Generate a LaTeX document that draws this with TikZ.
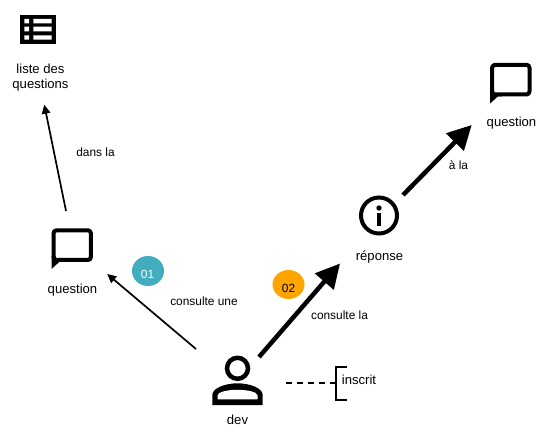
\documentclass[tikz,border=0pt]{standalone}
\usepackage{fontspec}
\setmainfont{Liberation Sans}
\usetikzlibrary{arrows.meta,calc}
\definecolor{tealbadge}{HTML}{42ADBC}
\definecolor{orangebadge}{HTML}{FFA500}
\tikzset{
  iconframe/.style={inner sep=0pt,outer sep=0pt,minimum width=#1,minimum height=#1},
  iconframe/.default=40pt,
  nodelabel/.style={inner sep=0pt,font=\fontsize{13.1}{15}\selectfont,align=center},
  edgelabel/.style={inner sep=0pt,font=\fontsize{11.9}{14}\selectfont,align=center},
  thinarrow/.style={line width=1.7pt,-{Triangle[length=9pt,width=8.5pt]}},
  bigarrow/.style={line width=4.5pt,-{Triangle[length=24pt,width=24pt]}},
  bubbleicon/.pic={
    \draw[line width=4pt,rounded corners=3pt,line join=round] (-9,12) -- (-18.7,12) -- (-18.7,-17.7) -- (18.7,-17.7) -- (18.7,12) -- (-9,12);
    \fill (-20.7,21) -- (-20.7,8) -- (-16.7,8) -- (-16.7,13.8) -- (-9,10) -- (-9,14) -- (-13,14) -- cycle;
  },
  listicon/.pic={
    \fill (-17.85,-14.5) rectangle (17.85,14.5);
    \fill[white] (-13.7,-10.2) rectangle (-9,-5.9) (-4.7,-10.2) rectangle (13.7,-5.9)
                 (-13.7,-2.5) rectangle (-9,2.1) (-4.7,-2.5) rectangle (13.7,2.1)
                 (-13.7,6.1) rectangle (-9,10.5) (-4.7,6.1) rectangle (13.7,10.5);
  },
  infoicon/.pic={
    \draw[line width=4pt] (0,0) circle (18pt);
    \fill (0,-7.5) circle (2.7pt);
    \fill (-2.4,-2.5) rectangle (2.4,10.5);
  },
  personicon/.pic={
    \draw[line width=4.5pt] (0,-11.7) circle (10.5pt);
    \fill (-25.2,25) -- (-25.2,15) .. controls (-25.2,8) and (-12,3.3) .. (0,3.3)
       .. controls (12,3.3) and (25.2,8) .. (25.2,15) -- (25.2,25) -- cycle;
    \fill[white] (-20,19.3) -- (-20,15.5) .. controls (-20,12) and (-10,9.8) .. (0,9.8)
       .. controls (10,9.8) and (20,12) .. (20,15.5) -- (20,19.3) -- cycle;
  }
}
\begin{document}
\begin{tikzpicture}[x=1pt,y=-1pt]
\useasboundingbox (0,0) rectangle (548,435);
% icon frames
\node[iconframe] (liste) at (38,29.2) {};
\node[iconframe] (qleft) at (72.2,248) {};
\node[iconframe] (qright) at (510.8,82.5) {};
\node[iconframe] (reponse) at (379,215.5) {};
\node[iconframe] (dev) at (237.5,380) {};
% icons
\pic at (liste) {listicon};
\pic at (qleft) {bubbleicon};
\pic at (qright) {bubbleicon};
\pic at (reponse) {infoicon};
\pic at (dev) {personicon};
% labels
\node[nodelabel] (lliste) at (40.5,77.5) {liste des\\questions};
\node[nodelabel] (lqleft) at (72.5,290) {question};
\node[nodelabel] (lqright) at (511.5,123.5) {question};
\node[nodelabel] (lreponse) at (379.5,257) {réponse};
\node[nodelabel] (ldev) at (237.5,420) {dev};
\node[edgelabel] (ldans) at (95.5,152.5) {dans la};
\node[edgelabel] (lune) at (204,301.5) {consulte une};
\node[edgelabel] (lla) at (339.5,315) {consulte la};
\node[edgelabel] (lala) at (458.5,165.5) {à la};
\node[nodelabel] (linscrit) at (359,380) {inscrit};
% badges
\fill[tealbadge] (148,271) ellipse (16pt and 15pt);
\node[edgelabel,text=white] (b1) at (147.5,274.5) {01};
\fill[orangebadge] (288.5,284.5) ellipse (16pt and 14.5pt);
\node[edgelabel] (b2) at (288.5,288.5) {02};
% connector ends
\coordinate (a1) at ($(qleft)+(-6.2,-37)$);
\coordinate (a2) at ($(liste)+(6.3,75.5)$);
\coordinate (b1s) at ($(dev)+(-41.5,-31)$);
\coordinate (b2e) at ($(qleft)+(35,26)$);
\coordinate (c1) at ($(dev)+(21.5,-23)$);
\coordinate (c2) at ($(reponse)+(-39,48)$);
\coordinate (d1) at ($(reponse)+(24,-20.5)$);
\coordinate (d2) at ($(qright)+(-39.1,42.5)$);
\coordinate (e1) at ($(dev)+(48,3.3)$);
\coordinate (br) at (336,383.3);
% connectors
\draw[thinarrow] (a1) -- (a2);
\draw[thinarrow] (b1s) -- (b2e);
\draw[bigarrow] (c1) -- (c2);
\draw[bigarrow] (d1) -- (d2);
\draw[line width=1.7pt,dash pattern=on 6pt off 5pt] (e1) -- (br);
\draw[line width=2.2pt] (346.7,366.7) -- (336,366.7) -- (336,400) -- (346.7,400);
\end{tikzpicture}
\end{document}
